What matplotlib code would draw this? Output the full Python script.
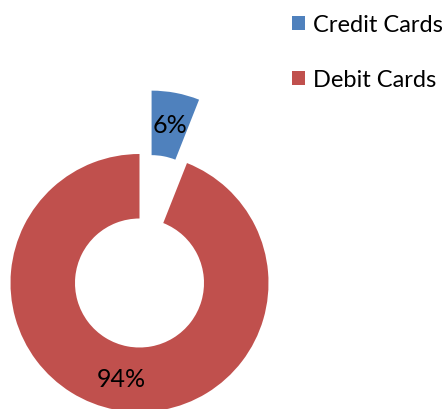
import matplotlib
matplotlib.use("Agg")
import matplotlib.pyplot as plt

categories = ["Credit Cards", "Debit Cards"]
values = [6, 94]
colors = ["#4F81BD", "#C0504D"]

plt.rcParams['font.family'] = ['Lato', 'DejaVu Sans']

fig = plt.figure(figsize=(4.46, 4.10), dpi=100)
ax = fig.add_axes([0, 0, 1, 1])
R = 129.0
wedges, texts, autotexts = ax.pie(
    values, colors=colors, startangle=90, counterclock=False,
    explode=[0.5, 0], radius=1.0, wedgeprops=dict(width=0.5, linewidth=0),
    autopct=lambda p: f"{p:.0f}%", pctdistance=0.75,
    textprops=dict(fontsize=18, color="black"))
ax.set_aspect('auto')
ax.set_xlim(-139.5 / R, (446 - 139.5) / R)
ax.set_ylim(-126 / R, 284 / R)
ax.axis('off')

leg = ax.legend(wedges, categories, loc='upper left', bbox_to_anchor=(0.655, 0.963),
                bbox_transform=fig.transFigure, frameon=False, fontsize=17,
                handlelength=0.55, handleheight=0.55, handletextpad=0.33,
                labelspacing=1.45, borderaxespad=0, borderpad=0)

fig.savefig("out.png", dpi=100)
